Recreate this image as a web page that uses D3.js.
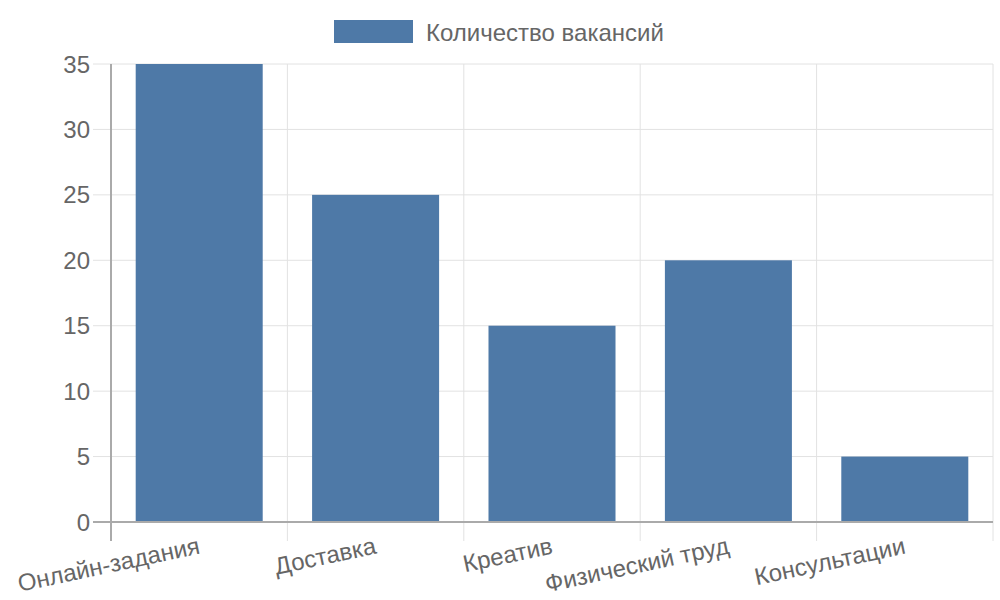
<!DOCTYPE html>
<html>
<head>
<meta charset="utf-8">
<script src="https://d3js.org/d3.v7.min.js"></script>
<style>
  body { margin: 0; background: #fff; }
  text { font-family: "Liberation Sans", Arial, sans-serif; fill: #666; }
</style>
</head>
<body>
<svg width="1000" height="600"></svg>
<script>
"use strict";

var categories = ["Онлайн-задания", "Доставка", "Креатив", "Физический труд", "Консультации"];
var values = [35, 25, 15, 20, 5];
var yTicks = [0, 5, 10, 15, 20, 25, 30, 35];
var seriesName = "Количество вакансий";

var svg = d3.select("svg");
var plotLeft = 111, plotRight = 993, plotTop = 64, plotBottom = 522;
var barColor = "#4e79a7";

var x = d3.scaleBand().domain(categories).range([plotLeft, plotRight]).paddingInner(0).paddingOuter(0);
var y = d3.scaleLinear().domain([0, 35]).range([plotBottom, plotTop]);

// horizontal grid + ticks
svg.append("g").selectAll("line").data(yTicks).enter().append("line")
  .attr("x1", plotLeft - 18).attr("x2", plotRight)
  .attr("y1", d => y(d)).attr("y2", d => y(d))
  .attr("stroke", d => d === 0 ? "#aaa" : "#e2e2e2").attr("stroke-width", d => d === 0 ? 2 : 1);

// vertical grid lines at band edges
var edges = categories.map(c => x(c)).concat([plotRight]);
svg.append("g").selectAll("line").data(edges).enter().append("line")
  .attr("x1", d => d).attr("x2", d => d)
  .attr("y1", plotTop).attr("y2", plotBottom + 19)
  .attr("stroke", (d, i) => i === 0 ? "#aaa" : "#e2e2e2").attr("stroke-width", (d, i) => i === 0 ? 2 : 1);

// bars
var bw = x.bandwidth() * 0.72;
svg.append("g").selectAll("rect").data(values).enter().append("rect")
  .attr("x", (d, i) => x(categories[i]) + (x.bandwidth() - bw) / 2)
  .attr("width", bw)
  .attr("y", d => y(d))
  .attr("height", d => y(0) - y(d))
  .attr("fill", barColor);

// redraw x axis line on top
svg.append("line").attr("x1", plotLeft - 18).attr("x2", plotRight).attr("y1", plotBottom).attr("y2", plotBottom)
  .attr("stroke", "#aaa").attr("stroke-width", 2);

// y labels
svg.append("g").selectAll("text").data(yTicks).enter().append("text")
  .attr("x", 90).attr("y", d => y(d))
  .attr("text-anchor", "end").attr("dominant-baseline", "central")
  .attr("font-size", 24)
  .text(d => d);

// x labels rotated
svg.append("g").selectAll("text").data(categories).enter().append("text")
  .attr("transform", d => "translate(" + (x(d) + x.bandwidth() / 2) + ",545) rotate(-12)")
  .attr("text-anchor", "end").attr("dominant-baseline", "central")
  .attr("font-size", 24)
  .text(d => d);

// legend
svg.append("rect").attr("x", 334).attr("y", 20).attr("width", 79).attr("height", 23).attr("fill", barColor);
svg.append("text").attr("x", 426).attr("y", 32).attr("dominant-baseline", "central")
  .attr("font-size", 24).text(seriesName);
</script>
</body>
</html>
